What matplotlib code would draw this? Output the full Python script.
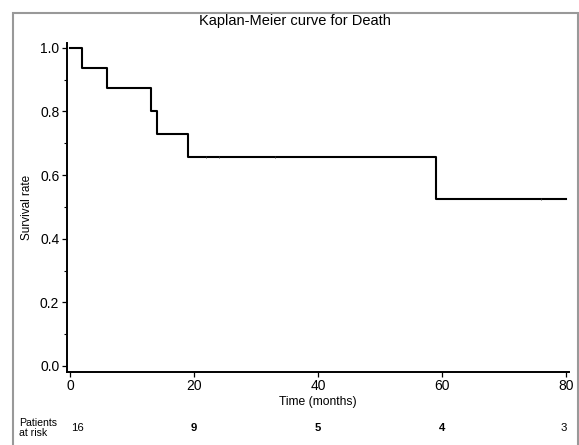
import matplotlib
matplotlib.use("Agg")
import matplotlib.pyplot as plt
from matplotlib.patches import Rectangle

plt.rcParams['font.family'] = ['Liberation Sans', 'DejaVu Sans']

# Data
event_times = [0, 2, 6, 13, 14, 19, 59, 80]
survival = [1.0, 0.9375, 0.875, 0.802, 0.729, 0.656, 0.525, 0.525]
censor_times = [22, 24, 33, 76]
censor_surv = [0.656, 0.656, 0.656, 0.525]
risk_times = [0, 20, 40, 60, 80]
risk_counts = ["16", "9", "5", "4", "3"]
risk_bold = [False, True, True, True, False]
x_ticks = [0, 20, 40, 60, 80]
y_ticks = [0.0, 0.2, 0.4, 0.6, 0.8, 1.0]

W, H = 579, 445
fig = plt.figure(figsize=(W / 100, H / 100), dpi=100)

# outer gray frame
fig.patches.append(Rectangle((12.5 / W, -0.05), (577.5 - 12.5) / W, 1.05 - 13 / H,
                             transform=fig.transFigure, fill=False,
                             edgecolor='#999999', linewidth=1.5))

ax = fig.add_axes([67 / W, 1 - 371.7 / H, (569 - 67) / W, (371.7 - 43) / H])
ax.step(event_times, survival, where='post', color='black', linewidth=1.5)
ax.plot(censor_times, censor_surv, linestyle='none', marker='|', color='#333333',
        markersize=2, markeredgewidth=0.6)

ax.set_xlim(-0.48, 80.5)
ax.set_ylim(-0.018, 1.015)
for s in ['top', 'right']:
    ax.spines[s].set_visible(False)
for s in ['left', 'bottom']:
    ax.spines[s].set_linewidth(1.4)
ax.set_xticks(x_ticks)
ax.set_xticklabels([str(v) for v in x_ticks])
ax.set_yticks(y_ticks)
ax.set_yticklabels([f"{v:.1f}" for v in y_ticks])
ax.set_yticks([0.1, 0.3, 0.5, 0.7, 0.9], minor=True)
ax.tick_params(axis='both', which='major', labelsize=10, length=3.5, width=0.9,
               direction='out', color='black', pad=2)
ax.tick_params(axis='y', which='minor', length=2, width=0.8)
ax.set_xlabel("Time (months)", fontsize=8.7, labelpad=2)
ax.set_ylabel("Survival rate", fontsize=8.5, labelpad=5)

fig.text(295 / W, 1 - 21 / H, "Kaplan-Meier curve for Death", fontsize=10.5,
         ha='center', va='center')

# risk table
ty = 1 - 428 / H
fig.text(19 / W, ty, "Patients\nat risk", fontsize=7.6, ha='left', va='center',
         linespacing=1.0)
for t, c, b in zip(risk_times, risk_counts, risk_bold):
    xd = ax.transData.transform((t, 0))[0] / (W)
    if t == risk_times[0]:
        ha = 'left'
        xd += 1 / W
    elif t == risk_times[-1]:
        ha = 'right'
        xd += 1 / W
    else:
        ha = 'center'
    fig.text(xd, ty, c, fontsize=8.2, ha=ha, va='center',
             fontweight='bold' if b else 'normal')

fig.savefig("out.png", dpi=100)
